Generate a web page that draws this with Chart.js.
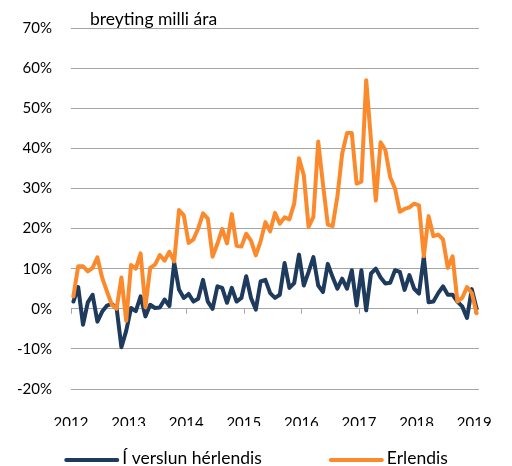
<!DOCTYPE html>
<html>
<head>
<meta charset="utf-8">
<script src="https://cdn.jsdelivr.net/npm/chart.js@4.4.1/dist/chart.umd.min.js"></script>
<style>
  html, body { margin: 0; padding: 0; background: #fff; }
</style>
</head>
<body>
<canvas id="myChart" width="512" height="466"></canvas>
<script>
// mánaðartölur, jan 2012 - jan 2019, breyting milli ára í %
const yearLabels = ['2012', '2013', '2014', '2015', '2016', '2017', '2018', '2019']
const seriesNames = ['Í verslun hérlendis', 'Erlendis']
const herlendis = [
  1.8, 5.4, -4.0, 1.6, 3.5, -3.2, -0.7, 0.8, 1.2, 0.2, -9.6, -5.5,
  0.2, -0.6, 3.1, -1.9, 1.0, 0.2, 0.3, 2.3, 0.7, 11.5, 4.8, 2.7,
  3.7, 1.8, 2.5, 7.2, 1.8, 0.0, 5.6, 5.2, 1.5, 5.2, 1.8, 2.7,
  8.1, 2.7, -0.2, 6.8, 7.2, 3.9, 2.7, 3.5, 11.4, 5.2, 6.4, 13.5,
  5.8, 9.2, 12.9, 5.8, 4.2, 11.2, 7.9, 5.0, 7.5, 5.0, 9.6, 0.8,
  9.6, -0.4, 8.8, 10.0, 7.8, 6.3, 6.5, 9.6, 9.2, 4.7, 8.4, 5.0,
  3.8, 13.0, 1.6, 1.8, 3.9, 5.6, 3.5, 3.5, 1.8, 0.6, -2.3, 4.9,
  0.0
]
const erlendis = [
  3.1, 10.6, 10.6, 9.3, 10.2, 12.8, 7.7, 4.3, 1.0, 0.0, 7.8, -3.0,
  10.9, 10.0, 13.8, 0.4, 10.2, 11.0, 13.4, 12.0, 14.2, 11.8, 24.6, 23.3,
  16.4, 17.3, 20.0, 23.8, 22.5, 13.0, 16.2, 19.9, 16.3, 23.6, 15.7, 15.5,
  18.7, 17.0, 13.3, 16.8, 21.6, 19.3, 23.9, 21.2, 22.8, 22.3, 26.2, 37.5,
  33.3, 20.4, 22.9, 41.7, 31.0, 21.0, 20.6, 28.0, 38.7, 43.8, 43.8, 31.2,
  31.7, 57.0, 42.0, 27.0, 41.5, 39.5, 32.8, 30.0, 24.2, 24.9, 25.3, 26.2,
  25.8, 13.1, 23.1, 18.1, 18.5, 17.3, 10.2, 13.1, 1.8, 2.7, 5.4, 3.9,
  -1.1
]
const yMin = -20
const yMax = 70
const note = 'breyting milli ára'

const navy = '#1e3a5c'
const orange = '#fb8a2c'
const gridColor = '#a6a6a6'
const fontFamily = 'Lato, "Open Sans", sans-serif'

// punktur i er miðja mánaðar i
function toPoints(arr) {
  return arr.map((v, i) => ({ x: i + 0.5, y: v }))
}

// merki á 0-línuna, titill og skýringar
const extras = {
  id: 'extras',
  beforeDatasetsDraw(chart) {
    const ctx = chart.ctx
    const xs = chart.scales.x
    const y0 = chart.scales.y.getPixelForValue(0)
    ctx.save()
    ctx.strokeStyle = gridColor
    ctx.lineWidth = 1
    xs.ticks.forEach(t => {
      const px = Math.round(xs.getPixelForValue(t.value)) + 0.5
      ctx.beginPath()
      ctx.moveTo(px, y0)
      ctx.lineTo(px, y0 + 5)
      ctx.stroke()
    })
    ctx.restore()
  },
  afterDraw(chart) {
    const ctx = chart.ctx
    const area = chart.chartArea
    ctx.save()
    ctx.font = '17.5px ' + fontFamily
    ctx.fillStyle = '#000'
    ctx.textBaseline = 'middle'
    ctx.textAlign = 'left'
    ctx.fillText(note, area.left + 19, 19)

    // skýringar
    const lineLen = 55, gap = 3, between = 67
    const items = chart.data.datasets.map(ds => ({
      text: ds.label, color: ds.borderColor, w: ctx.measureText(ds.label).width
    }))
    let total = 0
    items.forEach((it, k) => { total += lineLen + gap + it.w + (k ? between : 0) })
    let x = chart.width / 2 - total / 2
    const ly = 458
    items.forEach(it => {
      ctx.strokeStyle = it.color
      ctx.lineWidth = 4
      ctx.lineCap = 'round'
      ctx.beginPath()
      ctx.moveTo(x + 2, ly + 2)
      ctx.lineTo(x + lineLen - 2, ly + 2)
      ctx.stroke()
      x += lineLen + gap
      ctx.fillText(it.text, x, ly)
      x += it.w + between
    })
    ctx.restore()
  }
}

const ctx = document.getElementById('myChart').getContext('2d')
const myChart = new Chart(ctx, {
  type: 'line',
  data: {
    datasets: [{
      label: seriesNames[0],
      data: toPoints(herlendis),
      borderColor: navy,
      backgroundColor: navy,
      borderWidth: 4,
      borderJoinStyle: 'round',
      borderCapStyle: 'round',
      pointRadius: 0,
      tension: 0,
      fill: false,
      order: 2,
    }, {
      label: seriesNames[1],
      data: toPoints(erlendis),
      borderColor: orange,
      backgroundColor: orange,
      borderWidth: 4,
      borderJoinStyle: 'round',
      borderCapStyle: 'round',
      pointRadius: 0,
      tension: 0,
      fill: false,
      order: 1,
    }]
  },
  plugins: [extras],
  options: {
    responsive: false,
    animation: false,
    devicePixelRatio: 1,
    layout: {
      padding: { top: 28, right: 33, bottom: 40, left: 0 }
    },
    plugins: {
      legend: { display: false },
      tooltip: { enabled: false },
    },
    scales: {
      x: {
        type: 'linear',
        min: 0,
        max: herlendis.length,
        afterBuildTicks: (s) => {
          s.ticks = yearLabels.map((l, k) => ({ value: k * 12 }))
        },
        afterFit: (s) => { s.height = 37 },
        grid: { display: false },
        border: { display: false },
        ticks: {
          autoSkip: false,
          maxRotation: 0,
          padding: 17,
          color: '#000',
          font: { family: fontFamily, size: 15 },
          callback: (v) => yearLabels[Math.round(v / 12)],
        }
      },
      y: {
        min: yMin,
        max: yMax,
        afterFit: (s) => { s.width = 71 },
        grid: { color: gridColor, lineWidth: 1, drawTicks: false },
        border: { display: false },
        ticks: {
          stepSize: 10,
          padding: 19,
          color: '#000',
          font: { family: fontFamily, size: 15 },
          callback: (v) => v + '%',
        }
      }
    }
  }
})
</script>
</body>
</html>
